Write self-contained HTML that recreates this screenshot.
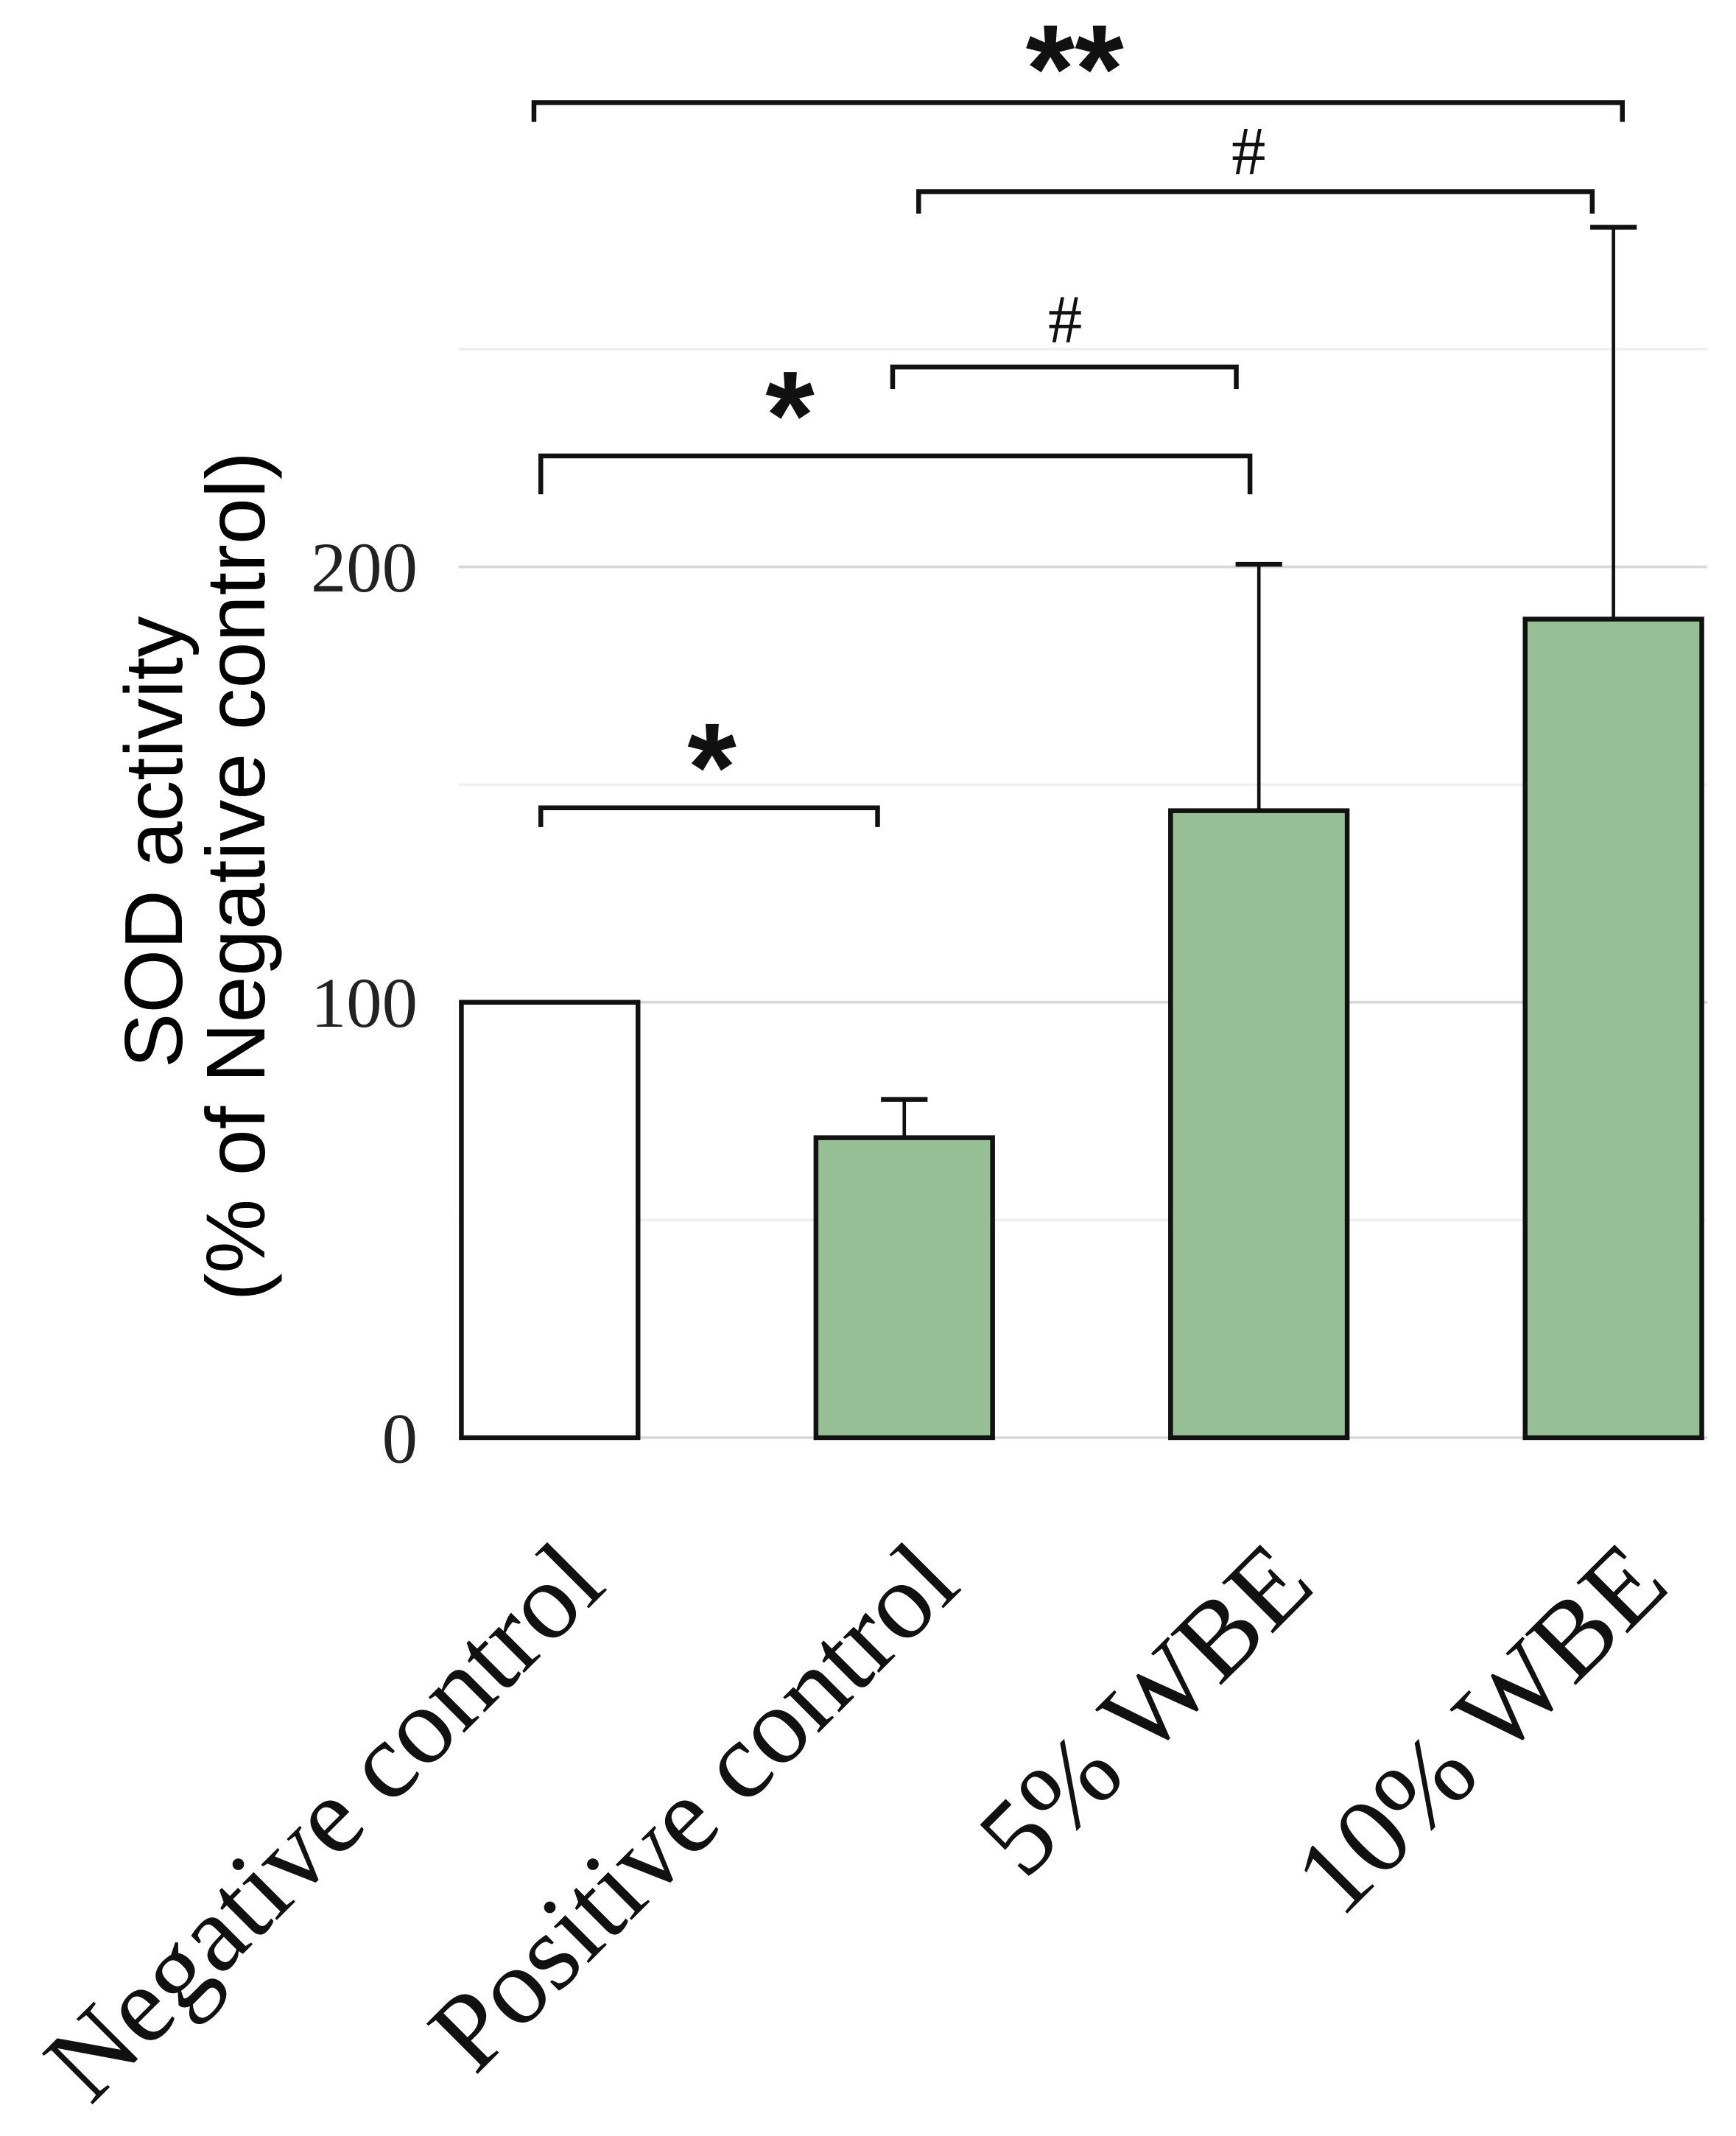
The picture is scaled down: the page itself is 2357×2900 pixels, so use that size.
<!DOCTYPE html>
<html><head><meta charset="utf-8"><style>
html,body{margin:0;padding:0;background:#fff;}
svg{display:block;}
</style></head><body>
<svg id="chart" width="2357" height="2900" viewBox="0 0 1268 1560" preserveAspectRatio="none" xmlns="http://www.w3.org/2000/svg">
<g id="grid"></g><g id="bars"></g><g id="ann"></g>
<text transform="translate(133,615) rotate(-90)" text-anchor="middle" font-family="Liberation Sans, sans-serif" font-size="60">SOD activity</text>
<text transform="translate(193,640) rotate(-90)" text-anchor="middle" font-family="Liberation Sans, sans-serif" font-size="61">(% of Negative control)</text>
</svg>
<script>
const categories = ["Negative control","Positive control","5% WBE","10% WBE"];
const values = [100, 68.9, 144, 188];
const errors = [0, 8.8, 56.6, 90];
const tickValues = [0, 100, 200];
const gridValues = [0, 50, 100, 150, 200, 250];
const fills = ["#ffffff","#97bf96","#97bf96","#97bf96"];
const NS = "http://www.w3.org/2000/svg";
const y = v => 1050 - v * 3.18;
const xc = i => 401.5 + i * 259;
const bw = 129;
function mk(tag, attrs, parent){const e=document.createElementNS(NS,tag);for(const k in attrs)e.setAttribute(k,attrs[k]);parent.appendChild(e);return e;}
const grid=document.getElementById('grid'), bars=document.getElementById('bars'), ann=document.getElementById('ann');
gridValues.forEach(v=>{
  const l=mk('line',{x1:335,x2:1247,y1:y(v),y2:y(v),stroke:(v%100===0)?'#d8d8d8':'#efefef','stroke-width':2},grid);
  
  
});
tickValues.forEach(v=>{
  const t=mk('text',{x:305,y:y(v)+18,'text-anchor':'end','font-family':'Liberation Serif, serif','font-size':52,fill:'#222'},grid);
  t.textContent=v;
  
  
});
categories.forEach((c,i)=>{
  const x=xc(i), top=y(values[i]);
  if(errors[i]>0){
    const et=y(values[i]+errors[i]);
    const e1=mk('line',{x1:x,x2:x,y1:top,y2:et,stroke:'#111','stroke-width':2.5},bars);
    
    
    const e2=mk('line',{x1:x-17,x2:x+17,y1:et,y2:et,stroke:'#111','stroke-width':3.5},bars);
    
    
  }
  const r=mk('rect',{x:x-bw/2,y:top,width:bw,height:1050-top,fill:fills[i],stroke:'#111','stroke-width':3.5},bars);
  
  
  const t=mk('text',{transform:'translate('+(x+43)+',1160) rotate(-45)','text-anchor':'end','font-family':'Liberation Serif, serif','font-size':80,fill:'#111'},bars);
  t.textContent=c;
  
  
});
const brackets=[
  {x1:395,x2:641,y:590,d:14,label:'*',lx:520,ly:592,fs:92,bold:true},
  {x1:395,x2:913,y:333,d:28,label:'*',lx:577,ly:335,fs:92,bold:true},
  {x1:652,x2:903,y:268,d:16,label:'#',lx:778,ly:250,fs:50,bold:false},
  {x1:671,x2:1163,y:140,d:16,label:'#',lx:912,ly:127,fs:50,bold:false},
  {x1:390,x2:1185,y:75,d:14,label:'**',lx:785,ly:82,fs:92,bold:true}
];
brackets.forEach(b=>{
  const p=mk('path',{d:'M'+b.x1+' '+(b.y+b.d)+' V'+b.y+' H'+b.x2+' V'+(b.y+b.d),fill:'none',stroke:'#111','stroke-width':3.5},ann);
  
  
  const t=mk('text',{x:b.lx,y:b.ly,'text-anchor':'middle','font-family':b.bold?'Liberation Sans, sans-serif':'Liberation Serif, serif','font-size':b.fs,'font-weight':b.bold?'bold':'normal',fill:'#111'},ann);
  t.textContent=b.label;
  
  
});
</script>
</body></html>
